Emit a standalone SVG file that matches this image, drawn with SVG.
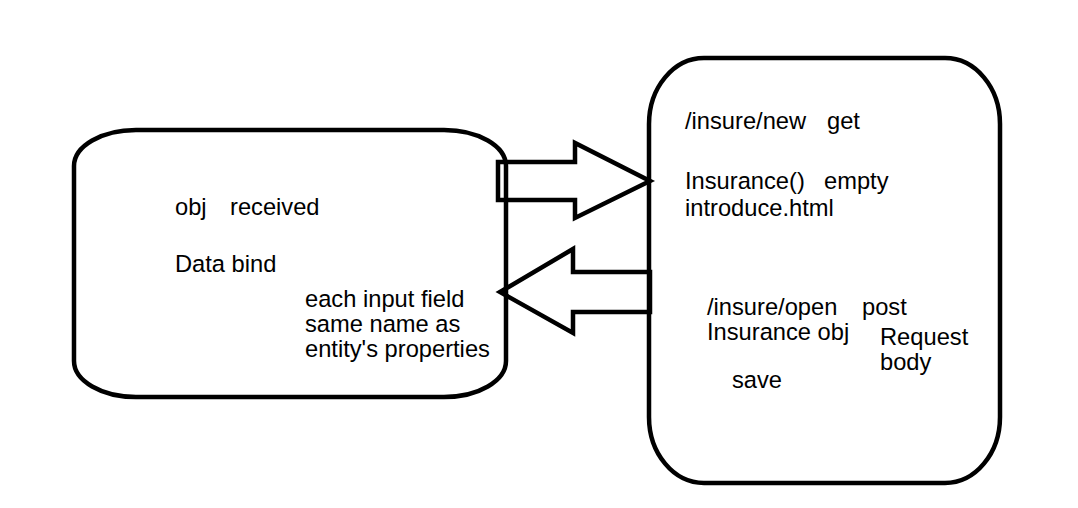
<svg xmlns="http://www.w3.org/2000/svg" width="1078" height="508" viewBox="0 0 1078 508">
<style>
.box{fill:none;stroke:#000;stroke-width:4.5}
.arrow{fill:none;stroke:#000;stroke-width:4.5;stroke-linejoin:miter}
.t{font-family:"Liberation Sans",Arial,sans-serif;font-size:23.7px;fill:#000}
</style>
<rect width="1078" height="508" fill="#fff"/>
<g id="connectors">
<polygon class="arrow" points="498,162 575,162 575,143 650,181 575,218 575,200 498,200"/>
<polygon class="arrow" points="650,272 573,272 573,249 500,292 573,333 573,312 650,312"/>
</g>
<g id="client">
<rect class="box" x="74" y="130" width="432" height="267" rx="62" ry="36"/>
<text class="t"><tspan x="175" y="215">obj</tspan><tspan x="230" y="215">received</tspan></text>
<text class="t" x="175" y="272">Data bind</text>
<text class="t"><tspan x="305" y="307">each input field</tspan><tspan x="305" y="332">same name as</tspan><tspan x="305" y="357">entity's properties</tspan></text>
</g>
<g id="server">
<rect class="box" x="649" y="58" width="351" height="425" rx="55" ry="66"/>
<text class="t"><tspan x="685" y="129">/insure/new</tspan><tspan x="827" y="129">get</tspan></text>
<text class="t"><tspan x="685" y="189">Insurance()</tspan><tspan x="824" y="189">empty</tspan></text>
<text class="t" x="685" y="215.5">introduce.html</text>
<text class="t"><tspan x="707" y="315">/insure/open</tspan><tspan x="862" y="315">post</tspan></text>
<text class="t" x="707" y="340">Insurance obj</text>
<text class="t"><tspan x="880" y="345">Request</tspan><tspan x="880" y="370">body</tspan></text>
<text class="t" x="732" y="388">save</text>
</g>
</svg>
